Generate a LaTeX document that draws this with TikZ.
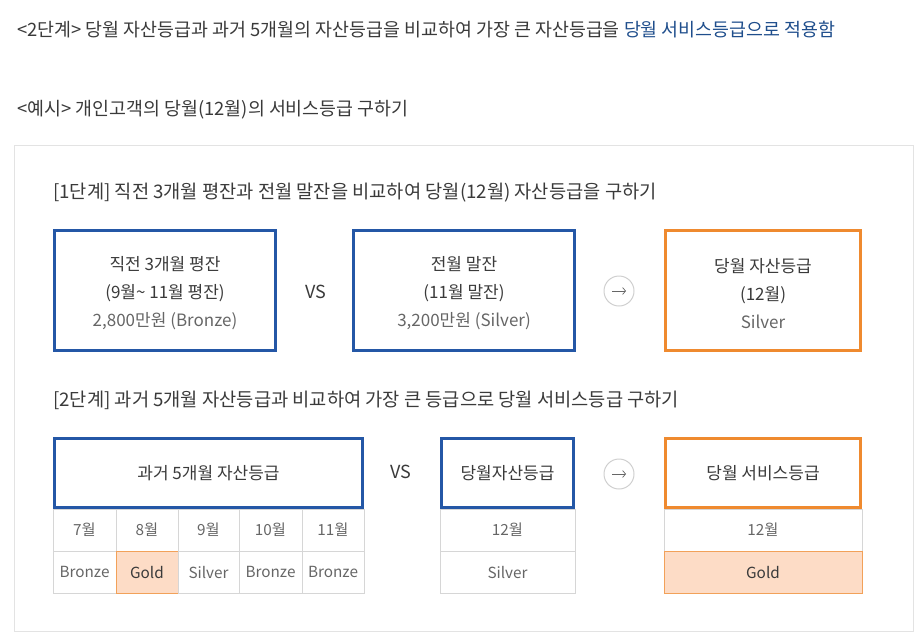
\documentclass[tikz,border=0pt]{standalone}
\usepackage{fontspec}
\setmainfont{Noto Sans CJK KR}
\usetikzlibrary{arrows.meta}
\definecolor{tgray}{HTML}{3A3A3A}
\definecolor{lgray}{HTML}{666666}
\definecolor{bblue}{HTML}{2457A6}
\definecolor{borange}{HTML}{EF8A2F}
\definecolor{gfill}{HTML}{FDDCC6}
\definecolor{lnk}{HTML}{1F4E8C}
\definecolor{cellline}{HTML}{D6D6D6}
\definecolor{panelline}{HTML}{E3E3E3}
\definecolor{circline}{HTML}{CFCFCF}
\begin{document}
\begin{tikzpicture}[x=1pt,y=-1pt,
  bluebox/.style={draw=bblue,line width=3pt,inner sep=0pt,text=tgray,align=center},
  orangebox/.style={draw=borange,line width=3pt,inner sep=0pt,text=tgray,align=center},
  boxtext/.style={inner sep=0pt,text=tgray,align=center,font=\fontsize{17}{28}\selectfont},
  cell/.style={draw=cellline,line width=1pt,inner sep=0pt,minimum height=42pt,text=lgray,font=\fontsize{15.3}{18}\selectfont},
  goldcell/.style={cell,fill=gfill,draw=borange!80,text=tgray},
  circ/.style={circle,draw=circline,line width=1pt,minimum size=30pt,inner sep=0pt},
  arr/.style={-{Straight Barb[length=3pt,width=7pt]},draw=lgray,line width=0.7pt},
  vs/.style={text=tgray,font=\fontsize{18}{20}\selectfont},
  head/.style={anchor=west,text=tgray,inner sep=0pt,font=\fontsize{18.7}{22}\selectfont},
  btext/.style={font=\fontsize{17}{27}\selectfont},
  toptext/.style={anchor=west,inner sep=0pt,text=tgray,font=\fontsize{18.4}{22}\selectfont}
]
\useasboundingbox (0,0) rectangle (923,643);
% top lines
\node[toptext] (t1) at (17,30)
  {<2단계> 당월 자산등급과 과거 5개월의 자산등급을 비교하여 가장 큰 자산등급을 \textcolor{lnk}{당월 서비스등급으로 적용함}};
\node[toptext] (t2) at (17,110)
  {<예시> 개인고객의 당월(12월)의 서비스등급 구하기};
% panel
\node[draw=panelline,line width=1pt,minimum width=899pt,minimum height=486pt,inner sep=0pt] (panel) at (463.5,388) {};
% step 1
\node[head] (h1) at (53,193) {[1단계] 직전 3개월 평잔과 전월 말잔을 비교하여 당월(12월) 자산등급을 구하기};
\node[bluebox,minimum width=221pt,minimum height=120pt] (b1) at (165,290.5) {};
\node[boxtext] (b1t) at (165,293.5)
  {직전 3개월 평잔\\(9월\textasciitilde{} 11월 평잔)\\\color{lgray}2,800만원 (Bronze)};
\node[vs] (vs1) at (316,292) {VS};
\node[bluebox,minimum width=221pt,minimum height=120pt] (b2) at (464,290.5) {};
\node[boxtext] (b2t) at (464,293.5)
  {전월 말잔\\(11월 말잔)\\\color{lgray}3,200만원 (Silver)};
\node[circ] (c1) at (619,291) {};
\draw[arr] ([xshift=-7pt]c1.center) -- ([xshift=7pt]c1.center);
\node[orangebox,minimum width=195pt,minimum height=120pt] (b3) at (763,290.5) {};
\node[boxtext] (b3t) at (763,293.5)
  {당월 자산등급\\(12월)\\\color{lgray}Silver};
% step 2
\node[head] (h2) at (53,400) {[2단계] 과거 5개월 자산등급과 비교하여 가장 큰 등급으로 당월 서비스등급 구하기};
% tables
\node[cell,minimum width=63pt] (m1) at (84.5,530) {7월};
\node[cell,minimum width=62pt] (m2) at (147,530) {8월};
\node[cell,minimum width=61pt] (m3) at (208.5,530) {9월};
\node[cell,minimum width=63pt] (m4) at (270.5,530) {10월};
\node[cell,minimum width=62pt] (m5) at (333,530) {11월};
\node[cell,minimum width=63pt] (g1) at (84.5,572) {Bronze};
\node[goldcell,minimum width=62pt] (g2) at (147,572) {Gold};
\node[cell,minimum width=61pt] (g3) at (208.5,572) {Silver};
\node[cell,minimum width=63pt] (g4) at (270.5,572) {Bronze};
\node[cell,minimum width=62pt] (g5) at (333,572) {Bronze};
\node[cell,minimum width=135pt] (m6) at (507.5,530) {12월};
\node[cell,minimum width=135pt] (g6) at (507.5,572) {Silver};
\node[cell,minimum width=198pt] (m7) at (763,530) {12월};
\node[goldcell,minimum width=198pt] (g7) at (763,572) {Gold};
% boxes
\node[bluebox,minimum width=308pt,minimum height=69pt,btext] (b4) at (208.5,473) {과거 5개월 자산등급};
\node[vs] (vs2) at (401,472) {VS};
\node[bluebox,minimum width=132pt,minimum height=69pt,btext] (b5) at (507.5,473) {당월자산등급};
\node[circ] (c2) at (619,474) {};
\draw[arr] ([xshift=-7pt]c2.center) -- ([xshift=7pt]c2.center);
\node[orangebox,minimum width=195pt,minimum height=69pt,btext] (b6) at (763,473) {당월 서비스등급};
\end{tikzpicture}
\end{document}
